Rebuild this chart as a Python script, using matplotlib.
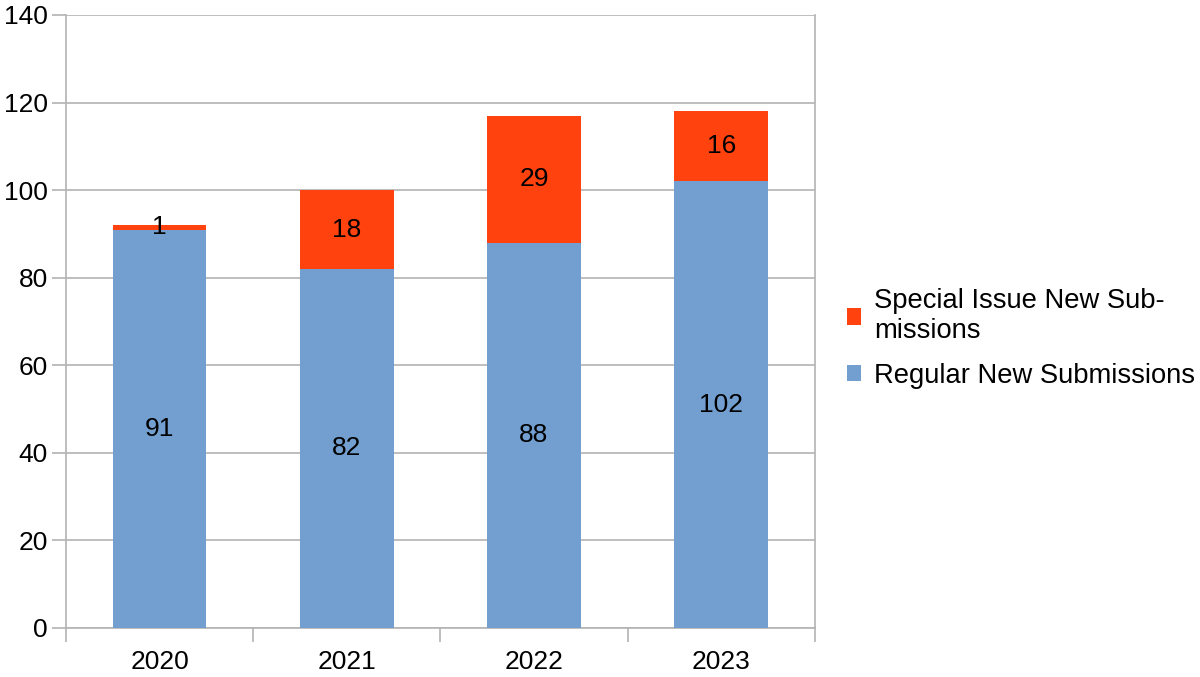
import numpy as np
import matplotlib
matplotlib.use("Agg")
import matplotlib.pyplot as plt

years = ["2020", "2021", "2022", "2023"]
regular = [91, 82, 88, 102]
special = [1, 18, 29, 16]

COLOR_REGULAR = "#729fcf"
COLOR_SPECIAL = "#ff420e"
GRID = "#b3b3b3"
FS = 19

plt.rcParams["font.family"] = ["Liberation Sans", "DejaVu Sans"]

fig = plt.figure(figsize=(12, 6.77), dpi=100)
ax = fig.add_axes([0.055, 0.0724, 0.624, 0.9055])

x = np.arange(len(years))
b1 = ax.bar(x, regular, width=0.5, color=COLOR_REGULAR, label="Regular New Submissions", zorder=3)
b2 = ax.bar(x, special, width=0.5, bottom=regular, color=COLOR_SPECIAL,
            label="Special Issue New Sub-\nmissions", zorder=3)

ax.bar_label(b1, labels=[str(v) for v in regular], label_type="center", fontsize=FS, zorder=4)
ax.bar_label(b2, labels=[str(v) for v in special], label_type="center", fontsize=FS, zorder=4)

ax.set_xlim(-0.5, len(years) - 0.5)
ax.set_ylim(0, 140)
ax.set_yticks(np.arange(0, 141, 20))
ax.set_xticks(x)
ax.set_xticklabels(years)
ax.set_xticks(np.arange(-0.5, len(years), 1), minor=True)
ax.tick_params(axis="x", which="major", length=0, labelsize=FS, pad=16)
ax.tick_params(axis="x", which="minor", length=10, color=GRID, width=1.2)
ax.tick_params(axis="y", length=10, color=GRID, width=1.2, labelsize=FS, pad=3)

ax.yaxis.grid(True, color=GRID, linewidth=1.2, zorder=0)
for side in ["left", "bottom", "right"]:
    ax.spines[side].set_color(GRID)
    ax.spines[side].set_linewidth(1.2)
ax.spines["top"].set_visible(False)

fig.legend(handles=[b2, b1], loc="center left", bbox_to_anchor=(0.685, 0.5),
           frameon=False, fontsize=19.7, handlelength=0.53, handleheight=0.53,
           handletextpad=0.48, labelspacing=0.68)

fig.savefig("out.png", dpi=100)
